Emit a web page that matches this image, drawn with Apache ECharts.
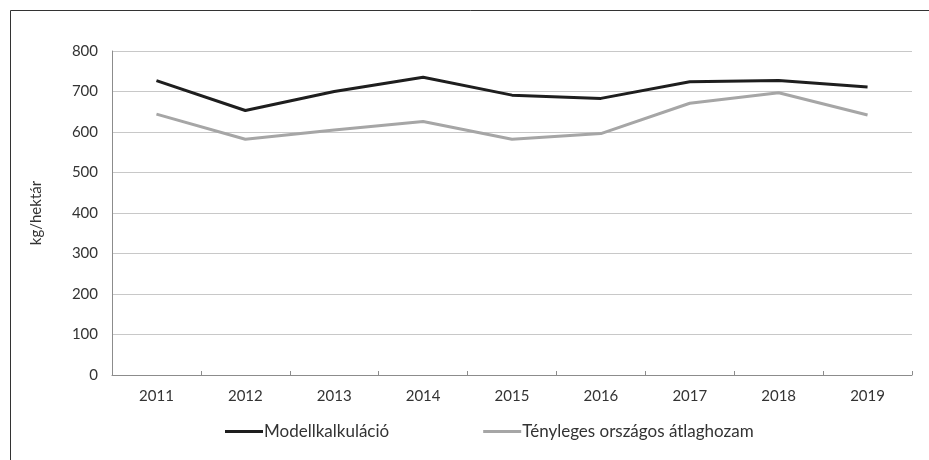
<!DOCTYPE html>
<html>
<head>
<meta charset="utf-8">
<script src="https://cdn.jsdelivr.net/npm/echarts@6/dist/echarts.min.js"></script>
<style>
  html, body { margin: 0; padding: 0; background: #fff; }
  #chart { width: 929px; height: 460px; }
</style>
</head>
<body>
<div id="chart"></div>
<script>
// Years on the horizontal axis
const years = ['2011', '2012', '2013', '2014', '2015', '2016', '2017', '2018', '2019'];
// Yield calculated by the model (kg/ha)
const modelYield = [727, 653, 700, 735, 691, 683, 724, 727, 711];
// Actual national average yield (kg/ha)
const actualYield = [644, 582, 605, 626, 582, 596, 671, 697, 642];

const FONT = 'Lato';

const chart = echarts.init(document.getElementById('chart'), null, { renderer: 'canvas' });

chart.setOption({
  backgroundColor: '#ffffff',
  animation: false,
  textStyle: { fontFamily: FONT },
  graphic: [{
    type: 'rect',
    left: 8, top: 8,
    shape: { width: 940, height: 470 },
    style: { fill: 'none', stroke: '#333333', lineWidth: 1 },
    silent: true
  }],
  grid: { left: 112, right: 17, top: 51, bottom: 85 },
  legend: {
    bottom: 15,
    left: 220,
    itemGap: 94,
    itemWidth: 38,
    itemHeight: 3,
    icon: 'rect',
    textStyle: { fontFamily: FONT, fontSize: 17, color: '#333333', padding: [0, 0, 0, -4] },
    data: ['Modellkalkuláció', 'Tényleges országos átlaghozam']
  },
  xAxis: {
    type: 'category',
    data: years,
    boundaryGap: true,
    axisLine: { lineStyle: { color: '#8c8c8c', width: 1 } },
    axisTick: { show: true, inside: true, length: 4, lineStyle: { color: '#8c8c8c' } },
    axisLabel: { color: '#333333', fontSize: 15, margin: 14, fontFamily: FONT }
  },
  yAxis: {
    type: 'value',
    min: 0, max: 800, interval: 100,
    name: 'kg/hektár',
    nameLocation: 'middle',
    nameGap: 68,
    nameTextStyle: { color: '#333333', fontSize: 15, fontFamily: FONT },
    axisLine: { show: true, lineStyle: { color: '#8c8c8c', width: 1 } },
    axisTick: { show: false },
    axisLabel: { color: '#333333', fontSize: 15, margin: 14, fontFamily: FONT },
    splitLine: { lineStyle: { color: '#c8c8c8', width: 1 } }
  },
  series: [
    {
      name: 'Modellkalkuláció',
      type: 'line',
      data: modelYield,
      symbol: 'none',
      lineStyle: { color: '#1e1e1e', width: 3 },
      itemStyle: { color: '#1e1e1e' }
    },
    {
      name: 'Tényleges országos átlaghozam',
      type: 'line',
      data: actualYield,
      symbol: 'none',
      lineStyle: { color: '#a6a6a6', width: 3 },
      itemStyle: { color: '#a6a6a6' }
    }
  ]
});
</script>
</body>
</html>
